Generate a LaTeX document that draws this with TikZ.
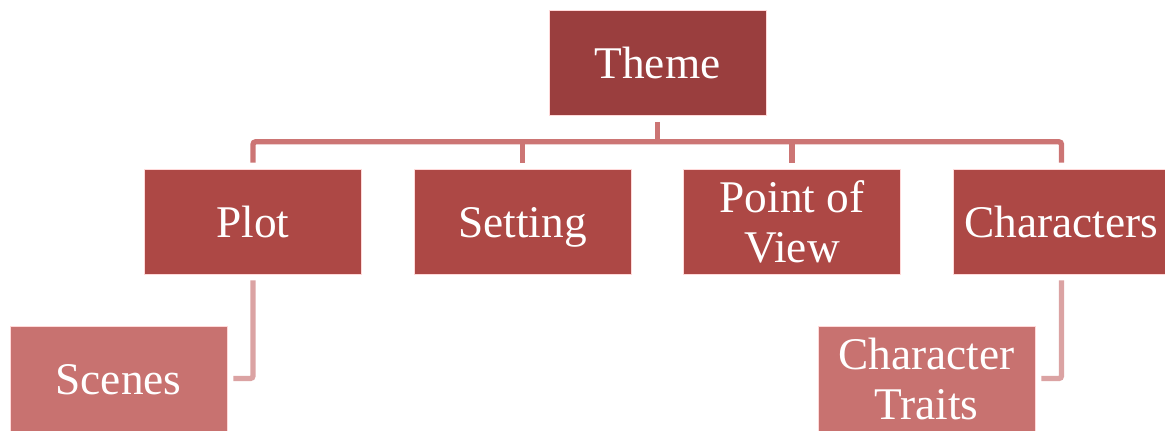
\documentclass[tikz,border=0pt]{standalone}
\usepackage{fontspec}
\setmainfont{Liberation Serif}
\usepackage{tikz}
\usetikzlibrary{positioning,calc}
\definecolor{themered}{HTML}{9A3E3E}
\definecolor{partred}{HTML}{AD4845}
\definecolor{subred}{HTML}{C87270}
\definecolor{toplink}{HTML}{CC7574}
\definecolor{sublink}{HTML}{DBA3A3}

\begin{document}
\begin{tikzpicture}[x=0.75pt, y=-0.75pt,
        box/.style={rectangle,draw=white!85!red,line width=0.4pt,text=white,inner sep=0pt,
          minimum width=162.75pt,minimum height=78.75pt,align=center,
          font=\fontsize{34}{37.5}\selectfont},
        oneline/.style={text height=23.5pt,text depth=0pt},
        theme/.style={box,oneline,fill=themered},
        part/.style={box,fill=partred},
        detail/.style={box,fill=subred},
        trunk/.style={draw=toplink,line width=4pt,rounded corners=2pt},
        branch/.style={draw=sublink,line width=4pt,rounded corners=2pt,shorten <=4.5pt,shorten >=4.5pt}]
        \clip (0,0) rectangle (1165,430);
        \node[theme] at (657.5,63) (top) {Theme};
        \node[part,oneline] at (253,221.5) (plot) {Plot};
        \node[part,oneline] at (522.5,221.5) (setting) {Setting};
        \node[part] at (792,221.5) (pov) {Point of\\View};
        \node[part,oneline] at (1061.5,221.5) (chars) {Characters};
        \node[detail,oneline] at (118.5,378.5) (scenes) {Scenes};
        \node[detail] at (926.5,378.5) (traits) {Character\\Traits};
        \coordinate (hub) at ($(top.south)+(0,26)$);
        % theme to the four parts
        \draw[trunk,shorten <=4.5pt] (top.south) -- (hub);
        \draw[trunk,shorten <=4.5pt,shorten >=4.5pt] (plot.north) |- (hub) -| (chars.north);
        \draw[trunk,shorten >=4.5pt] (hub -| setting.north) -- (setting.north);
        \draw[trunk,shorten >=4.5pt] (hub -| pov.north) -- (pov.north);
        % parts to details
        \draw[branch] (plot.south) |- (scenes.east);
        \draw[branch] (chars.south) |- (traits.east);
      \end{tikzpicture}
\end{document}
